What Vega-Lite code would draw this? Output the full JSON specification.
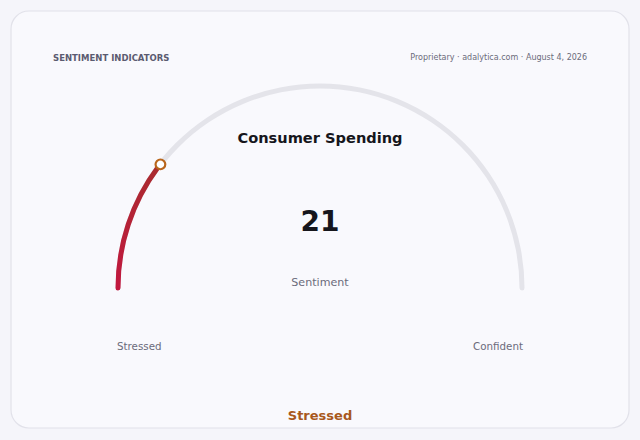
{
  "$schema": "https://vega.github.io/schema/vega-lite/v6.json",
  "width": 640,
  "height": 440,
  "autosize": {"type": "fit", "contains": "padding"},
  "padding": 0,
  "background": "#f5f5fa",
  "config": {
    "view": {"stroke": null},
    "text": {"font": "DejaVu Sans"}
  },
  "datasets": {
    "card": [{"x": -1.5297, "x2": 1.5297, "y": 1.3713, "y2": -0.6931}],
    "gauge": [
      {"part": "track", "cx": 0, "cy": 0, "start": 0, "end": 100},
      {"part": "value", "cx": 0, "cy": 0, "start": 0, "end": 21}
    ],
    "marker": [{"x": -0.79, "y": 0.612, "value": 21}],
    "labels": [
      {"role": "kicker", "text": "SENTIMENT INDICATORS", "x": -1.3218, "y": 1.1386},
      {"role": "source", "text": "Proprietary · adalytica.com · August 4, 2026", "x": 1.3218, "y": 1.1386},
      {"role": "title", "text": "Consumer Spending", "x": 0, "y": 0.7376},
      {"role": "number", "text": "21", "x": 0, "y": 0.3218},
      {"role": "caption", "text": "Sentiment", "x": 0, "y": 0.0248},
      {"role": "low", "text": "Stressed", "x": -1.005, "y": -0.2921},
      {"role": "high", "text": "Confident", "x": 1.005, "y": -0.2921},
      {"role": "status", "text": "Stressed", "x": 0, "y": -0.6337}
    ]
  },
  "layer": [
    {
      "data": {"name": "card"},
      "mark": {"type": "rect", "fill": "#f9f9fd", "stroke": "#e2e2ea", "strokeWidth": 1.2, "cornerRadius": 18},
      "encoding": {
        "x": {"field": "x", "type": "quantitative", "scale": {"domain": [-1.5842, 1.5842], "nice": false, "zero": false}, "axis": null},
        "x2": {"field": "x2"},
        "y": {"field": "y", "type": "quantitative", "scale": {"domain": [-0.7525, 1.4257], "nice": false, "zero": false}, "axis": null},
        "y2": {"field": "y2"}
      }
    },
    {
      "data": {"name": "gauge"},
      "transform": [{"filter": "datum.part === 'track'"}],
      "mark": {"type": "arc", "innerRadius": 199.5, "outerRadius": 204.5, "cornerRadius": 2.5, "fill": "#e4e4ea"},
      "encoding": {
        "x": {"field": "cx", "type": "quantitative"},
        "y": {"field": "cy", "type": "quantitative"},
        "theta": {"field": "start", "type": "quantitative", "scale": {"domain": [0, 100], "range": [-1.583, 1.583]}},
        "theta2": {"field": "end"}
      }
    },
    {
      "data": {"name": "gauge"},
      "transform": [{"filter": "datum.part === 'value'"}],
      "mark": {
        "type": "arc", "innerRadius": 199.5, "outerRadius": 204.5, "cornerRadius": 2.5,
        "fill": {
          "gradient": "linear", "x1": 0, "y1": 1, "x2": 0, "y2": 0,
          "stops": [{"offset": 0, "color": "#c2173f"}, {"offset": 1, "color": "#a92b2f"}]
        }
      },
      "encoding": {
        "x": {"field": "cx", "type": "quantitative"},
        "y": {"field": "cy", "type": "quantitative"},
        "theta": {"field": "start", "type": "quantitative"},
        "theta2": {"field": "end"}
      }
    },
    {
      "data": {"name": "marker"},
      "mark": {"type": "point", "shape": "circle", "filled": true, "fill": "#ffffff", "stroke": "#b9661c", "strokeWidth": 2.2, "size": 95, "opacity": 1},
      "encoding": {
        "x": {"field": "x", "type": "quantitative"},
        "y": {"field": "y", "type": "quantitative"}
      }
    },
    {
      "data": {"name": "labels"},
      "transform": [{"filter": "datum.role === 'kicker'"}],
      "mark": {"type": "text", "align": "left", "baseline": "middle", "fontSize": 8.5, "fontWeight": "bold", "color": "#5b5b70", "letterSpacing": 0.6},
      "encoding": {"x": {"field": "x", "type": "quantitative"}, "y": {"field": "y", "type": "quantitative"}, "text": {"field": "text"}}
    },
    {
      "data": {"name": "labels"},
      "transform": [{"filter": "datum.role === 'source'"}],
      "mark": {"type": "text", "align": "right", "baseline": "middle", "fontSize": 8, "color": "#6b6b7b"},
      "encoding": {"x": {"field": "x", "type": "quantitative"}, "y": {"field": "y", "type": "quantitative"}, "text": {"field": "text"}}
    },
    {
      "data": {"name": "labels"},
      "transform": [{"filter": "datum.role === 'title'"}],
      "mark": {"type": "text", "align": "center", "baseline": "middle", "fontSize": 14.6, "fontWeight": "bold", "color": "#16161c"},
      "encoding": {"x": {"field": "x", "type": "quantitative"}, "y": {"field": "y", "type": "quantitative"}, "text": {"field": "text"}}
    },
    {
      "data": {"name": "labels"},
      "transform": [{"filter": "datum.role === 'number'"}],
      "mark": {"type": "text", "align": "center", "baseline": "middle", "fontSize": 28, "fontWeight": "bold", "color": "#16161c"},
      "encoding": {"x": {"field": "x", "type": "quantitative"}, "y": {"field": "y", "type": "quantitative"}, "text": {"field": "text"}}
    },
    {
      "data": {"name": "labels"},
      "transform": [{"filter": "datum.role === 'caption'"}],
      "mark": {"type": "text", "align": "center", "baseline": "middle", "fontSize": 11.1, "color": "#6b6b7b"},
      "encoding": {"x": {"field": "x", "type": "quantitative"}, "y": {"field": "y", "type": "quantitative"}, "text": {"field": "text"}}
    },
    {
      "data": {"name": "labels"},
      "transform": [{"filter": "datum.role === 'low'"}],
      "mark": {"type": "text", "align": "left", "baseline": "middle", "fontSize": 10.3, "color": "#6b6b7b"},
      "encoding": {"x": {"field": "x", "type": "quantitative"}, "y": {"field": "y", "type": "quantitative"}, "text": {"field": "text"}}
    },
    {
      "data": {"name": "labels"},
      "transform": [{"filter": "datum.role === 'high'"}],
      "mark": {"type": "text", "align": "right", "baseline": "middle", "fontSize": 10.3, "color": "#6b6b7b"},
      "encoding": {"x": {"field": "x", "type": "quantitative"}, "y": {"field": "y", "type": "quantitative"}, "text": {"field": "text"}}
    },
    {
      "data": {"name": "labels"},
      "transform": [{"filter": "datum.role === 'status'"}],
      "mark": {"type": "text", "align": "center", "baseline": "middle", "fontSize": 13, "fontWeight": "bold", "color": "#a8581c"},
      "encoding": {"x": {"field": "x", "type": "quantitative"}, "y": {"field": "y", "type": "quantitative"}, "text": {"field": "text"}}
    }
  ]
}
